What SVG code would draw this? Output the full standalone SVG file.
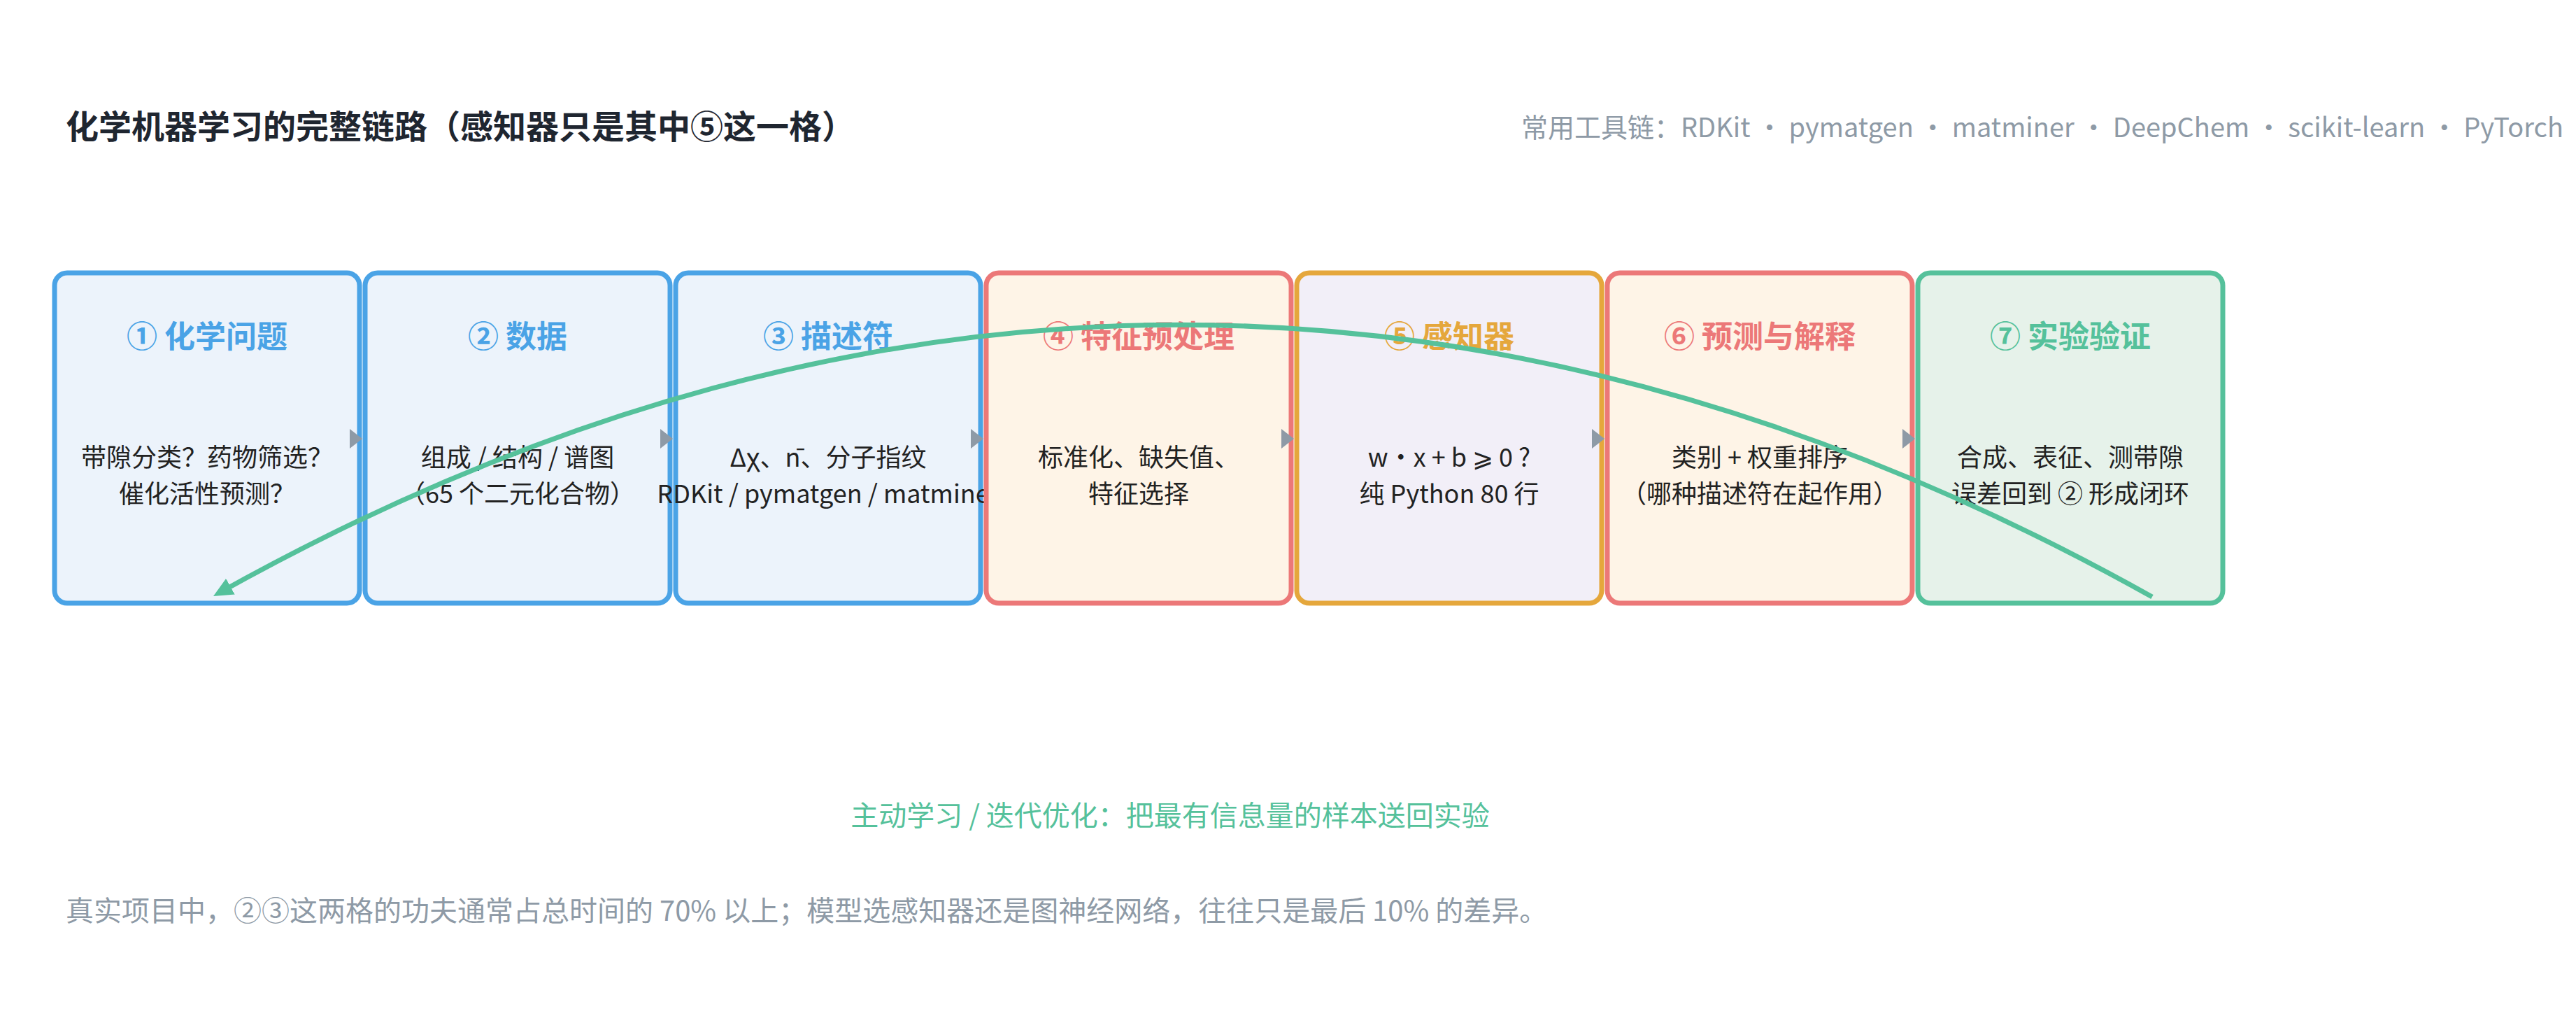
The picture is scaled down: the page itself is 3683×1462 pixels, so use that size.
<svg xmlns="http://www.w3.org/2000/svg" width="3683" height="1462" viewBox="0 0 3683 1462">
<style>
text{font-family:"Noto Sans CJK SC","Noto Sans",sans-serif}
.box{stroke-width:7}
.b{fill:#ECF3FB;stroke:#4AA3E6}
.r{fill:#FEF4E7;stroke:#EC7878}
.o{fill:#F2EFF8;stroke:#E5A73C}
.g{fill:#E6F2EA;stroke:#55C19B}
.t{font-size:44px;font-weight:bold;text-anchor:middle}
.d{font-size:36px;fill:#222;text-anchor:middle}
.tri{fill:#8E9AA6}
</style>
<defs>
<marker id="ga" markerWidth="30" markerHeight="26" refX="20" refY="13" orient="auto" markerUnits="userSpaceOnUse"><path d="M0,0 L28,13 L0,26 Z" fill="#55C19B"/></marker>
</defs>
<rect width="3683" height="1462" fill="#fff"/>
<text x="94" y="198" font-size="47" font-weight="bold" fill="#1F2630">化学机器学习的完整链路（感知器只是其中⑤这一格）</text>
<text x="3665" y="196" font-size="38" fill="#8E9AA6" text-anchor="end">常用工具链：RDKit · pymatgen · matminer · DeepChem · scikit-learn · PyTorch</text>
<g id="n1"><rect class="box b" x="78" y="390" width="436" height="472" rx="18"/><text class="t" x="296" y="497" fill="#4AA3E6">① 化学问题</text><text class="d" x="296" y="667">带隙分类？药物筛选？</text><text class="d" x="296" y="719">催化活性预测？</text></g>
<g id="n2"><rect class="box b" x="522" y="390" width="436" height="472" rx="18"/><text class="t" x="740" y="497" fill="#4AA3E6">② 数据</text><text class="d" x="740" y="667">组成 / 结构 / 谱图</text><text class="d" x="740" y="719">（65 个二元化合物）</text></g>
<g id="n3"><rect class="box b" x="966" y="390" width="436" height="472" rx="18"/><text class="t" x="1184" y="497" fill="#4AA3E6">③ 描述符</text><text class="d" x="1184" y="667">Δχ、n̄、分子指纹</text><text class="d" x="1184" y="719">RDKit / pymatgen / matminer</text></g>
<g id="n4"><rect class="box r" x="1410" y="390" width="436" height="472" rx="18"/><text class="t" x="1628" y="497" fill="#EC7878">④ 特征预处理</text><text class="d" x="1628" y="667">标准化、缺失值、</text><text class="d" x="1628" y="719">特征选择</text></g>
<g id="n5"><rect class="box o" x="1854" y="390" width="436" height="472" rx="18"/><text class="t" x="2072" y="497" fill="#E5A73C">⑤ 感知器</text><text class="d" x="2072" y="667">w·x + b ⩾ 0 ?</text><text class="d" x="2072" y="719">纯 Python 80 行</text></g>
<g id="n6"><rect class="box r" x="2298" y="390" width="436" height="472" rx="18"/><text class="t" x="2516" y="497" fill="#EC7878">⑥ 预测与解释</text><text class="d" x="2516" y="667">类别 + 权重排序</text><text class="d" x="2516" y="719">（哪种描述符在起作用）</text></g>
<g id="n7"><rect class="box g" x="2742" y="390" width="436" height="472" rx="18"/><text class="t" x="2960" y="497" fill="#55C19B">⑦ 实验验证</text><text class="d" x="2960" y="667">合成、表征、测带隙</text><text class="d" x="2960" y="719">误差回到 ② 形成闭环</text></g>
<g id="connectors">
<path class="tri" d="M500,613 L518,627 L500,641 Z"/>
<path class="tri" d="M944,613 L962,627 L944,641 Z"/>
<path class="tri" d="M1388,613 L1406,627 L1388,641 Z"/>
<path class="tri" d="M1832,613 L1850,627 L1832,641 Z"/>
<path class="tri" d="M2276,613 L2294,627 L2276,641 Z"/>
<path class="tri" d="M2720,613 L2738,627 L2720,641 Z"/>
<path d="M3077,853 Q1691,78 312,848" fill="none" stroke="#55C19B" stroke-width="7" marker-end="url(#ga)"/>
</g>
<text x="1673" y="1180" font-size="40" fill="#55C19B" text-anchor="middle">主动学习 / 迭代优化：把最有信息量的样本送回实验</text>
<text x="94" y="1316" font-size="40" fill="#8E9AA6">真实项目中，②③这两格的功夫通常占总时间的 70% 以上；模型选感知器还是图神经网络，往往只是最后 10% 的差异。</text>
</svg>
